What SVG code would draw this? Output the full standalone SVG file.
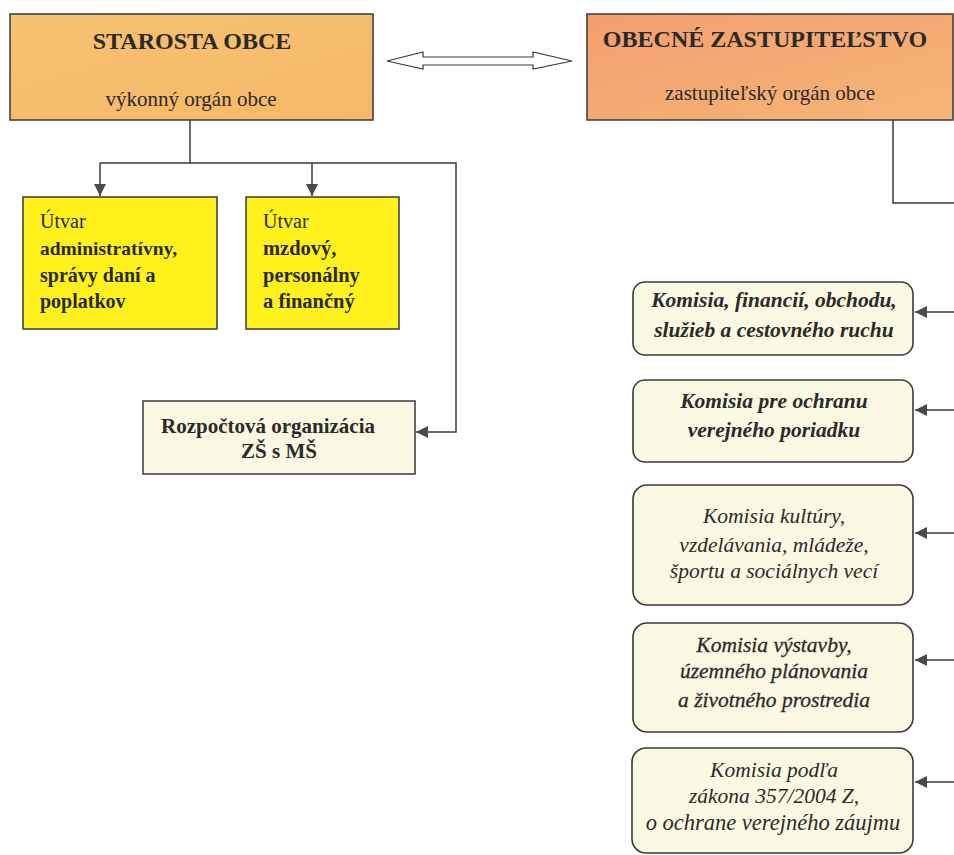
<svg xmlns="http://www.w3.org/2000/svg" width="954" height="855" viewBox="0 0 954 855">
<style>
.t{font-family:"Liberation Serif","Times New Roman",serif;fill:#2a2a2a}
.b{font-weight:bold}
.i{font-style:italic}
.c{text-anchor:middle}
.box{stroke:#3a3a3a;stroke-width:1.5}
.kom{fill:#FBF9E4;stroke:#3a3a3a;stroke-width:1.6}
.ln{fill:none;stroke:#3a3a3a;stroke-width:1.5}
.hd{fill:#4a4a4a}
</style>
<defs>
<marker id="ah" viewBox="0 0 12 12" refX="12" refY="6" markerWidth="12" markerHeight="12" markerUnits="userSpaceOnUse" orient="auto">
<path d="M0,0 L12,6 L0,12 Z" class="hd"/>
</marker>
<linearGradient id="g1" x1="0" y1="0" x2="1" y2="1">
<stop offset="0" stop-color="#F7C270"/><stop offset="1" stop-color="#F4B868"/>
</linearGradient>
<linearGradient id="g2" x1="0" y1="0" x2="1" y2="1">
<stop offset="0" stop-color="#F29E6E"/><stop offset="1" stop-color="#F6B676"/>
</linearGradient>
</defs>
<rect width="954" height="855" fill="#ffffff"/>

<g id="connectors">
<path class="ln" d="M190,120 V163 M100,163 H456 V432 H416" marker-end="url(#ah)"/>
<path class="ln" d="M100,163 V196" marker-end="url(#ah)"/>
<path class="ln" d="M312,163 V196" marker-end="url(#ah)"/>
<path class="ln" d="M893,120 V203 H954"/>
<path class="ln" d="M954,312 H915" marker-end="url(#ah)"/>
<path class="ln" d="M954,410 H915" marker-end="url(#ah)"/>
<path class="ln" d="M954,533 H915" marker-end="url(#ah)"/>
<path class="ln" d="M954,660 H915" marker-end="url(#ah)"/>
<path class="ln" d="M954,782 H915" marker-end="url(#ah)"/>
<path d="M387,61 L423,52 V57 H533 V52 L572,61 L533,69 V65 H423 V69 Z" fill="#ffffff" stroke="#3a3a3a" stroke-width="1.2"/>
</g>

<g id="starosta">
<rect class="box" x="10" y="14" width="363" height="106" fill="url(#g1)"/>
<text class="t b c" x="192" y="49" font-size="24">STAROSTA OBCE</text>
<text class="t c" x="191" y="106" font-size="21">výkonný orgán obce</text>
</g>

<g id="zastupitelstvo">
<rect class="box" x="587" y="14" width="366" height="106" fill="url(#g2)"/>
<text class="t b c" x="765" y="47" font-size="24">OBECNÉ ZASTUPITEĽSTVO</text>
<text class="t c" x="770" y="100" font-size="21">zastupiteľský orgán obce</text>
</g>

<g id="utvar1">
<rect class="box" x="23" y="197" width="194" height="132" fill="#FFF21C"/>
<text class="t" x="40" y="228" font-size="20">Útvar</text>
<text class="t b" x="40" y="255" font-size="19.5">administratívny,</text>
<text class="t b" x="40" y="282" font-size="20">správy daní a</text>
<text class="t b" x="40" y="308" font-size="20">poplatkov</text>
</g>

<g id="utvar2">
<rect class="box" x="246" y="197" width="153" height="132" fill="#FFF21C"/>
<text class="t" x="263" y="228" font-size="20">Útvar</text>
<text class="t b" x="263" y="255" font-size="20.5">mzdový,</text>
<text class="t b" x="263" y="282" font-size="20.5">personálny</text>
<text class="t b" x="263" y="308" font-size="20.5">a finančný</text>
</g>

<g id="rozpoctova">
<rect class="box" x="143" y="401" width="272" height="73" fill="#FAF8E2"/>
<text class="t b c" x="268" y="433" font-size="21">Rozpočtová organizácia</text>
<text class="t b c" x="279" y="458" font-size="21">ZŠ s MŠ</text>
</g>

<g id="komisia1">
<rect class="kom" x="633" y="282" width="280" height="73" rx="12"/>
<text class="t b i c" x="774" y="307" font-size="21.5">Komisia, financií, obchodu,</text>
<text class="t b i c" x="774" y="337" font-size="21.5">služieb  a cestovného ruchu</text>
</g>

<g id="komisia2">
<rect class="kom" x="633" y="380" width="280" height="82" rx="12"/>
<text class="t b i c" x="774" y="408" font-size="21.5">Komisia pre ochranu</text>
<text class="t b i c" x="774" y="437" font-size="21.5">verejného poriadku</text>
</g>

<g id="komisia3">
<rect class="kom" x="633" y="485" width="280" height="120" rx="14"/>
<text class="t i c" x="774" y="523" font-size="21.5">Komisia kultúry,</text>
<text class="t i c" x="774" y="552" font-size="21.5">vzdelávania, mládeže,</text>
<text class="t i c" x="774" y="578" font-size="21.5">športu a sociálnych vecí</text>
</g>

<g id="komisia4">
<rect class="kom" x="633" y="623" width="280" height="109" rx="14"/>
<text class="t i c" x="774" y="652" font-size="21.5" stroke="#2a2a2a" stroke-width="0.3">Komisia výstavby,</text>
<text class="t i c" x="774" y="678" font-size="21.5" stroke="#2a2a2a" stroke-width="0.3">územného plánovania</text>
<text class="t i c" x="774" y="707" font-size="21.5" stroke="#2a2a2a" stroke-width="0.3">a životného prostredia</text>
</g>

<g id="komisia5">
<rect class="kom" x="632" y="748" width="281" height="105" rx="14"/>
<text class="t i c" x="774" y="777" font-size="21.5">Komisia podľa</text>
<text class="t i c" x="774" y="803" font-size="21.5">zákona 357/2004 Z,</text>
<text class="t i c" x="773" y="830" font-size="22.5">o ochrane verejného záujmu</text>
</g>
</svg>
